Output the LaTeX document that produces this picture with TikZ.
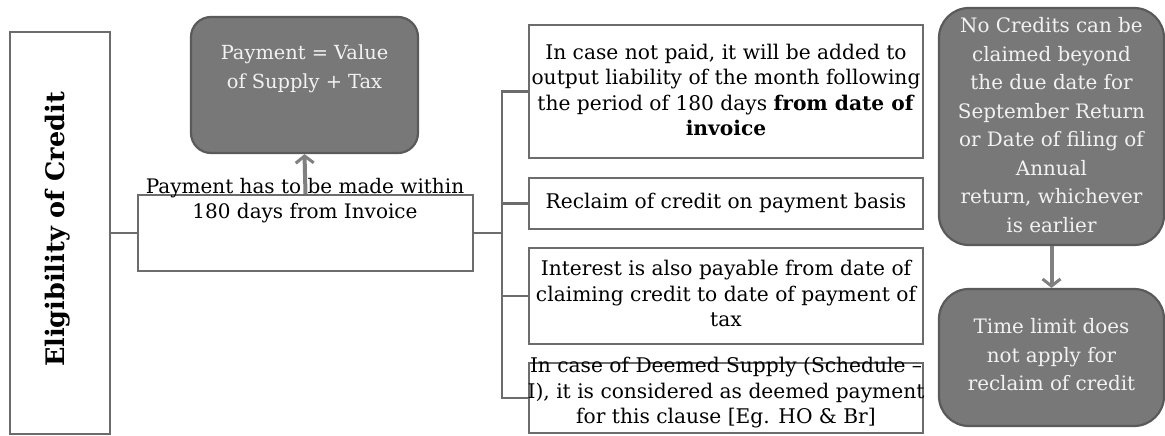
\documentclass[tikz,border=0pt]{standalone}
\usepackage{fontspec}
\setmainfont{DejaVu Serif}
\usetikzlibrary{arrows.meta}
\definecolor{darkbox}{HTML}{787878}
\definecolor{darkedge}{HTML}{5A5A5A}
\definecolor{lightedge}{HTML}{6C6C6C}
\definecolor{boxtext}{HTML}{F2F2F2}
\begin{document}
\begin{tikzpicture}[x=1pt,y=-1pt,
  whitebox/.style={draw=lightedge,line width=2.2pt,fill=white,rectangle,inner sep=0pt},
  darkround/.style={draw=darkedge,line width=2.2pt,fill=darkbox,rectangle,inner sep=0pt},
  btext/.style={align=center,inner sep=0pt,font=\fontsize{20.2}{25.5}\selectfont},
  dtext/.style={align=center,inner sep=0pt,text=boxtext},
  conn/.style={draw=lightedge,line width=2.2pt},
  arr/.style={draw=black!50,line width=4pt,-{Straight Barb[length=7pt,width=18pt,line width=3pt]}}
]
\clip (0,0) rectangle (1165,436);
\fill[white] (0,0) rectangle (1165,436);
% left box
\node[whitebox,minimum width=100pt,minimum height=402pt] (elig) at (60,233) {};
\node[rotate=90,inner sep=0pt,font=\fontsize{25.5}{30}\selectfont\bfseries] (eligtext) at (58,229.5) {Eligibility of Credit};
% main box
\node[whitebox,minimum width=335pt,minimum height=76pt] (main) at (305.5,233) {};
% payment dark box
\node[darkround,rounded corners=20pt,minimum width=227pt,minimum height=136pt] (pay) at (304.5,85) {};
\node[dtext,font=\fontsize{19.4}{29}\selectfont] (paytext) at (304.5,68.5) {Payment = Value\\of Supply + Tax};
% branch boxes
\node[whitebox,minimum width=394pt,minimum height=133pt] (b1) at (726,91.5) {};
\node[btext] (b1text) at (726,90) {In case not paid, it will be added to\\output liability of the month following\\the period of 180 days \textbf{from date of}\\\textbf{invoice}};
\node[whitebox,minimum width=394pt,minimum height=51pt] (b2) at (726,203.5) {};
\node[btext] (b2text) at (726,203.5) {Reclaim of credit on payment basis};
\node[whitebox,minimum width=394pt,minimum height=96pt] (b3) at (726,296) {};
\node[btext] (b3text) at (726,293.5) {Interest is also payable from date of\\claiming credit to date of payment of\\tax};
\node[whitebox,minimum width=394pt,minimum height=70pt] (b4) at (726,398) {};
\node[btext] (b4text) at (726,393) {In case of Deemed Supply (Schedule –\\I), it is considered as deemed payment\\for this clause [Eg. HO \& Br]};
% right dark boxes
\node[darkround,rounded corners=30pt,minimum width=225pt,minimum height=237pt] (nc) at (1051.5,126.5) {};
\node[dtext,font=\fontsize{19.9}{28.5}\selectfont] (nctext) at (1051.5,125) {No Credits can be\\claimed beyond\\the due date for\\September Return\\or Date of filing of\\Annual\\return, whichever\\is earlier};
\node[darkround,rounded corners=30pt,minimum width=225pt,minimum height=137pt] (tl) at (1051.5,357.5) {};
\node[dtext,font=\fontsize{19.9}{28.5}\selectfont] (tltext) at (1051.5,355) {Time limit does\\not apply for\\reclaim of credit};
% connectors
\coordinate (j) at (502,233);
\draw[conn] (elig.east) -- (main.west);
\draw[conn] (main.east) -- (j);
\draw[conn] (b1.west) -- (b1.west -| j) -- (b4.west -| j) -- (b4.west);
\draw[conn] (b2.west) -- (b2.west -| j);
\draw[conn] (b3.west) -- (b3.west -| j);
% arrows
\draw[arr] (main.north) -- (pay.south);
\draw[arr] (nc.south) -- (tl.north);
% main text drawn over the arrow
\node[btext,font=\fontsize{20}{25}\selectfont] (maintext) at (305,200.5) {Payment has to be made within\\180 days from Invoice};
\end{tikzpicture}
\end{document}
